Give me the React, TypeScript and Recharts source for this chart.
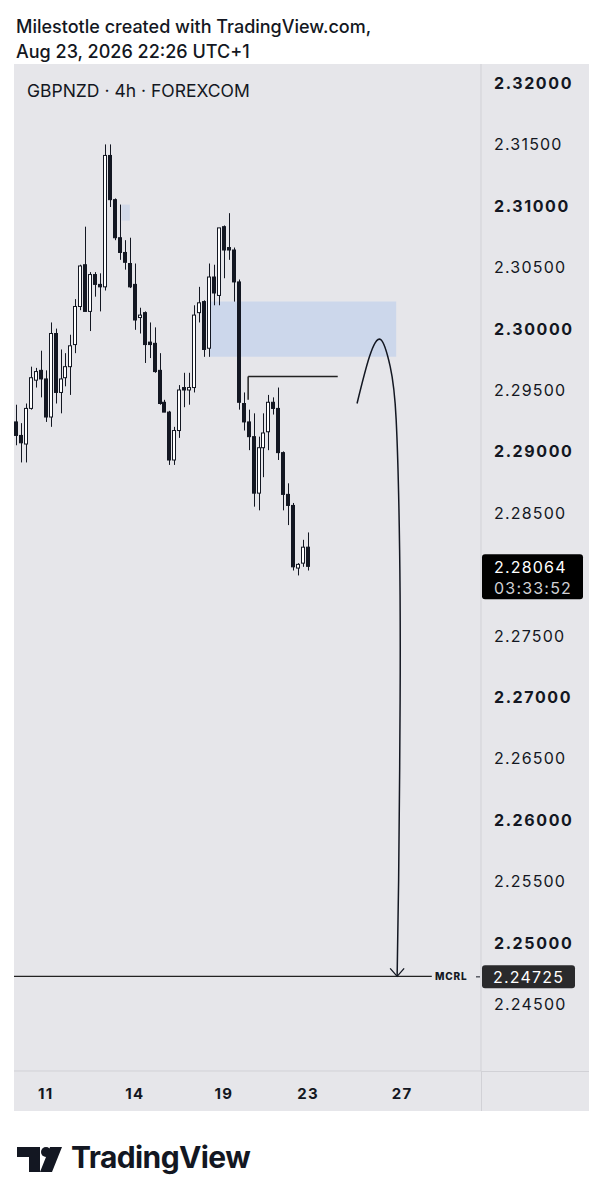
import { Bar, ComposedChart, Line, ReferenceArea, ReferenceLine, XAxis, YAxis } from "recharts";

const INK = "#131722";
const PANEL = "#e6e6ea";
const RULE = "#d1d1d6";
const ZONE = "#ccd7eb";
const FONT = 'Inter, "Noto Sans", Arial, sans-serif';

// GBPNZD 4h candles, oldest first
const opens = [
  2.2924, 2.2913, 2.2906, 2.2935, 2.2958, 2.2966, 2.2959, 2.2928, 2.2996, 2.2948,
  2.2960, 2.2969, 2.2987, 2.3018, 2.3052, 2.3014, 2.3044, 2.3036, 2.3034, 2.3141,
  2.3105, 2.3074, 2.3062, 2.3053, 2.3036, 2.3009, 2.3013, 2.2989, 2.2988, 2.2966,
  2.2940, 2.2932, 2.2893, 2.2917, 2.2952, 2.2950, 2.2952, 2.3013, 2.3022, 2.2984,
  2.3042, 2.3027, 2.3083, 2.3066, 2.3064, 2.3038, 2.2939, 2.2924, 2.2912, 2.2866,
  2.2903, 2.2916, 2.2940, 2.2935, 2.2899, 2.2865, 2.2856, 2.2805, 2.2809, 2.2822,
];
const highs = [
  2.2938, 2.2923, 2.2939, 2.2969, 2.2968, 2.2982, 2.2966, 2.3005, 2.3000, 2.2983,
  2.2980, 2.2995, 2.3024, 2.3052, 2.3083, 2.3046, 2.3046, 2.3045, 2.3150, 2.3150,
  2.3106, 2.3101, 2.3072, 2.3074, 2.3053, 2.3017, 2.3014, 2.3005, 2.3001, 2.2980,
  2.2942, 2.2933, 2.2920, 2.2954, 2.2964, 2.2964, 2.3019, 2.3034, 2.3023, 2.3053,
  2.3052, 2.3082, 2.3084, 2.3094, 2.3066, 2.3040, 2.2948, 2.2934, 2.2931, 2.2912,
  2.2931, 2.2946, 2.2944, 2.2952, 2.2900, 2.2874, 2.2858, 2.2809, 2.2828, 2.2834,
];
const lows = [
  2.2905, 2.2891, 2.2891, 2.2934, 2.2952, 2.2944, 2.2924, 2.2920, 2.2939, 2.2931,
  2.2953, 2.2946, 2.2980, 2.3015, 2.3014, 2.2998, 2.3026, 2.3014, 2.3031, 2.3099,
  2.3072, 2.3056, 2.3048, 2.3033, 2.2999, 2.2996, 2.2972, 2.2976, 2.2964, 2.2938,
  2.2932, 2.2889, 2.2889, 2.2911, 2.2936, 2.2938, 2.2948, 2.3005, 2.2977, 2.2977,
  2.3019, 2.3019, 2.3041, 2.3056, 2.3022, 2.2934, 2.2917, 2.2901, 2.2855, 2.2852,
  2.2879, 2.2901, 2.2930, 2.2893, 2.2852, 2.2840, 2.2803, 2.2799, 2.2806, 2.2803,
];
const closes = [
  2.2913, 2.2907, 2.2935, 2.2960, 2.2965, 2.2959, 2.2928, 2.2996, 2.2948, 2.2959,
  2.2969, 2.2986, 2.3018, 2.3051, 2.3014, 2.3044, 2.3036, 2.3034, 2.3141, 2.3105,
  2.3074, 2.3062, 2.3054, 2.3034, 2.3007, 2.3011, 2.2987, 2.2987, 2.2965, 2.2939,
  2.2932, 2.2893, 2.2917, 2.2950, 2.2950, 2.2952, 2.3011, 2.3021, 2.2983, 2.3042,
  2.3029, 2.3082, 2.3064, 2.3064, 2.3038, 2.2940, 2.2924, 2.2912, 2.2866, 2.2903,
  2.2915, 2.2940, 2.2935, 2.2899, 2.2865, 2.2856, 2.2806, 2.2808, 2.2822, 2.28064,
];

const dayTicks = [6, 24, 42, 59, 78];
const dayLabels = ["11", "14", "19", "23", "27"];
// 2.28000 sits under the live price tag, so it is not listed
const priceTicks = [
  2.245, 2.25, 2.255, 2.26, 2.265, 2.27, 2.275,
  2.285, 2.29, 2.295, 2.3, 2.305, 2.31, 2.315, 2.32,
];

const lastPrice = closes[closes.length - 1];
const countdown = "03:33:52";
const mcrlPrice = 2.24725;

// drawings, in (candle index, price)
const smallZone = { x1: 21.3, x2: 23.0, y1: 2.3088, y2: 2.3101 };
const supplyZone = { x1: 39, x2: 76.8, y1: 2.2977, y2: 2.3022 };
const level = { x1: 46.9, x2: 65.0, y: 2.2961, drop: 2.2942 };
const arrowPath = [
  { i: 68.9, p: 2.2939 },
  { i: 71.4, p: 2.2977 },
  { i: 73.7, p: 2.2991 },
  { i: 75.6, p: 2.2969 },
  { i: 76.8, p: 2.2926 },
  { i: 77.5, p: 2.2820 },
  { i: 77.6, p: 2.2698 },
  { i: 77.3, p: 2.2551 },
  { i: 77.0, p: 2.24725 },
];

const candles = opens.map((o, i) => ({ i, o, h: highs[i], l: lows[i], c: closes[i] }));

function Candle(props: any) {
  const { x, y, width, height, payload } = props;
  const { o, h, l, c } = payload;
  const k = Math.abs(height) / (h - l || 1e-9);
  const top = Math.min(y, y + height);
  const toY = (v: number) => top + (h - v) * k;
  const cx = Math.round(x + width / 2) + 0.5;
  const bodyTop = toY(Math.max(o, c));
  const bodyH = Math.max(1, toY(Math.min(o, c)) - bodyTop);
  return (
    <g>
      <line x1={cx} x2={cx} y1={toY(h)} y2={toY(l)} stroke={INK} />
      <rect x={cx - 2} y={bodyTop} width={3} height={bodyH}
            fill={c >= o ? "#fff" : INK} stroke={INK} />
    </g>
  );
}

function PriceTick({ x, y, payload }: any) {
  const v = payload.value as number;
  const major = Math.round(v * 1000) % 10 === 0;
  return (
    <text x={x + 13} y={y} dominantBaseline="central" fill={INK} fontFamily={FONT}
          fontSize={16} fontWeight={major ? 700 : 400} letterSpacing={major ? 1.6 : 1.2}>
      {v.toFixed(5)}
    </text>
  );
}

function DayTick({ x, y, payload }: any) {
  const idx = dayTicks.indexOf(payload.value);
  return (
    <text x={x} y={y + 22} textAnchor="middle" dominantBaseline="central" fill={INK}
          fontFamily={FONT} fontSize={15} fontWeight={700} letterSpacing={1.2}>
      {dayLabels[idx]}
    </text>
  );
}

function ArrowTip(props: any) {
  const { cx, cy, index } = props;
  if (index !== arrowPath.length - 1) return <g key={index} />;
  return (
    <path key={index} d={`M${cx - 7},${cy - 8}L${cx},${cy}L${cx + 7},${cy - 8}`}
          fill="none" stroke={INK} strokeWidth={1.3} />
  );
}

function NowTag({ viewBox }: any) {
  const x0 = viewBox.x + viewBox.width + 1;
  const y = viewBox.y;
  return (
    <g fontFamily={FONT}>
      <rect x={x0} y={y - 12} width={101} height={45} rx={3} fill="#000" />
      <text x={x0 + 12} y={y + 1} dominantBaseline="central" fill="#fff" fontSize={16}
            letterSpacing={1.2}>{lastPrice.toFixed(5)}</text>
      <text x={x0 + 12} y={y + 22} dominantBaseline="central" fill="#d0d0d4" fontSize={16}
            letterSpacing={1.2}>{countdown}</text>
    </g>
  );
}

function McrlTag({ viewBox }: any) {
  const right = viewBox.x + viewBox.width;
  const y = viewBox.y;
  return (
    <g fontFamily={FONT}>
      <text x={right - 46} y={y} dominantBaseline="central" fill={INK} fontSize={10}
            fontWeight={800} letterSpacing={0.8}>MCRL</text>
      <line x1={right - 5} x2={right - 1} y1={y + 0.5} y2={y + 0.5} stroke={INK} />
      <rect x={right + 1} y={y - 11} width={93} height={23} rx={3} fill="#2a2a2c" />
      <text x={right + 12} y={y + 1} dominantBaseline="central" fill="#fff" fontSize={16}
            letterSpacing={1.2}>{mcrlPrice.toFixed(5)}</text>
    </g>
  );
}

function Logo() {
  return (
    <g fill={INK}>
      <path d="M17,1147H40V1172H29V1157H17Z" />
      <circle cx={46} cy={1152} r={5} />
      <path d="M50,1147H62L52,1172H40Z" />
      <text x={71} y={1168} fontFamily={FONT} fontSize={30} fontWeight={700}
            letterSpacing={-0.6}>TradingView</text>
    </g>
  );
}

export default function App() {
  return (
    <div style={{ position: "absolute", left: 0, top: 0, width: 604, height: 1200, background: "#fff" }}>
      <div style={{ position: "absolute", left: 14, top: 64, width: 575, height: 1047, background: PANEL }}>
        <ComposedChart width={575} height={1047} data={candles}
                       margin={{ top: 0, right: 0, bottom: 0, left: 0 }}>
          <XAxis dataKey="i" type="number" domain={[-0.4, 93.94]} allowDataOverflow
                 ticks={dayTicks} interval={0} tick={<DayTick />} tickLine={false}
                 tickSize={0} tickMargin={0} axisLine={{ stroke: RULE }} height={40} />
          <YAxis orientation="right" type="number" domain={[2.239544, 2.321547]}
                 allowDataOverflow ticks={priceTicks} interval={0} tick={<PriceTick />}
                 tickLine={false} tickSize={0} tickMargin={0} axisLine={{ stroke: RULE }}
                 width={108} />
          <ReferenceArea {...smallZone} fill="#d2daea" fillOpacity={1} stroke="none"
                         ifOverflow="visible" />
          <ReferenceArea {...supplyZone} fill={ZONE} fillOpacity={1} stroke="none"
                         ifOverflow="visible" />
          <Bar dataKey={(d: any) => [d.l, d.h]} barSize={4} isAnimationActive={false}
               shape={(p: any) => <Candle {...p} />} />
          <ReferenceLine segment={[{ x: level.x1, y: level.y }, { x: level.x2, y: level.y }]}
                         stroke="#222" strokeWidth={1.5} ifOverflow="visible" />
          <ReferenceLine segment={[{ x: level.x1, y: level.y }, { x: level.x1, y: level.drop }]}
                         stroke="#222" strokeWidth={1.5} ifOverflow="visible" />
          <Line data={arrowPath} dataKey="p" type="natural" stroke={INK} strokeWidth={1.5}
                dot={(p: any) => <ArrowTip {...p} />} activeDot={false}
                isAnimationActive={false} />
          <ReferenceLine segment={[{ x: -0.4, y: mcrlPrice }, { x: 84, y: mcrlPrice }]}
                         stroke="#222" strokeWidth={1.2} ifOverflow="visible" />
          <ReferenceLine y={mcrlPrice} stroke="none" ifOverflow="visible"
                         label={<McrlTag />} />
          <ReferenceLine y={lastPrice} stroke="none" ifOverflow="visible"
                         label={<NowTag />} />
        </ComposedChart>
        <div style={{ position: "absolute", left: 467, top: 1007, width: 1, height: 40, background: RULE }} />
        <div style={{ position: "absolute", left: 467, top: 1007, width: 108, height: 1, background: RULE }} />
      </div>
      <svg width={604} height={1200} style={{ position: "absolute", left: 0, top: 0, pointerEvents: "none" }}>
        <g fontFamily={FONT} fill={INK}>
          <text x={16} y={33} fontSize={18} fontWeight={500}>Milestotle created with TradingView.com,</text>
          <text x={16} y={58} fontSize={18} fontWeight={500}>Aug 23, 2026 22:26 UTC+1</text>
          <text x={27} y={97} fontSize={17.5}>GBPNZD · 4h · FOREXCOM</text>
        </g>
        <Logo />
      </svg>
    </div>
  );
}
